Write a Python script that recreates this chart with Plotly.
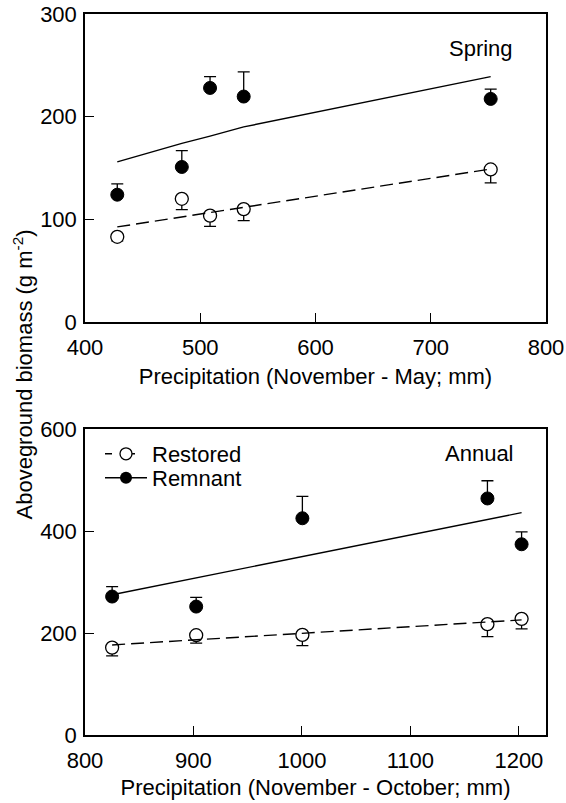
import plotly.graph_objects as go
from plotly.subplots import make_subplots

# ---- Spring panel data ----
spring_x = [428, 484, 508.5, 537.7, 752]
spring_remnant = [124, 151, 228, 219.6, 217.3]
spring_remnant_err = [10.6, 16, 11, 24, 9.5]
spring_restored = [83, 120, 103.6, 110, 148.6]
spring_restored_err = [4, 10.5, 10.4, 11.3, 13]
spring_remnant_fit_x = [428, 484, 508.5, 537.7, 752]
spring_remnant_fit = [156, 174, 181, 190, 239]
spring_restored_fit_x = [428, 752]
spring_restored_fit = [92.6, 149]

# ---- Annual panel data ----
annual_x = [825, 902.5, 1000.4, 1171, 1202.5]
annual_remnant = [271.5, 251.8, 425, 463.8, 374]
annual_remnant_err = [19.5, 18, 42.7, 34.7, 24.4]
annual_restored = [171.4, 195.7, 196.3, 217.3, 227.7]
annual_restored_err = [16.4, 15.7, 21, 24.3, 19.7]
annual_fit_x = [825, 1202.5]
annual_remnant_fit = [275, 436]
annual_restored_fit = [176.6, 225.7]

FONT = "Liberation Sans, Arial, Helvetica, sans-serif"
FS = 22
BLACK = "black"
DASH = "13px,6px"

W, H = 566, 803
L, R, T, B = 85, 20, 14, 68
PW, PH = W - L - R, H - T - B


def px_x(px):
    return (px - L) / PW


def px_y(py):
    return (H - B - py) / PH


fig = make_subplots(rows=2, cols=1, vertical_spacing=0.0)


def add_panel(row, x, rem, rem_err, res, res_err, rem_fx, rem_fy, res_fx, res_fy):
    fig.add_trace(go.Scatter(
        x=x, y=res, mode="markers", showlegend=False,
        marker=dict(symbol="circle", size=13, color="white",
                    line=dict(color=BLACK, width=1.3)),
        error_y=dict(type="data", symmetric=False, array=[0] * len(x),
                     arrayminus=res_err, color=BLACK, thickness=1.3, width=6),
    ), row=row, col=1)
    fig.add_trace(go.Scatter(
        x=x, y=rem, mode="markers", showlegend=False,
        marker=dict(symbol="circle", size=13, color=BLACK,
                    line=dict(color=BLACK, width=1)),
        error_y=dict(type="data", symmetric=False, array=rem_err,
                     arrayminus=[0] * len(x), color=BLACK, thickness=1.3, width=6),
    ), row=row, col=1)
    fig.add_trace(go.Scatter(
        x=res_fx, y=res_fy, mode="lines", showlegend=False,
        line=dict(color=BLACK, width=1.4, dash=DASH),
    ), row=row, col=1)
    fig.add_trace(go.Scatter(
        x=rem_fx, y=rem_fy, mode="lines", showlegend=False,
        line=dict(color=BLACK, width=1.4),
    ), row=row, col=1)


add_panel(1, spring_x, spring_remnant, spring_remnant_err, spring_restored,
          spring_restored_err, spring_remnant_fit_x, spring_remnant_fit,
          spring_restored_fit_x, spring_restored_fit)
add_panel(2, annual_x, annual_remnant, annual_remnant_err, annual_restored,
          annual_restored_err, annual_fit_x, annual_remnant_fit,
          annual_fit_x, annual_restored_fit)

# legend entries (two separate legends for exact placement)
fig.add_trace(go.Scatter(
    x=[None], y=[None], mode="lines+markers", name="Restored", legend="legend",
    marker=dict(symbol="circle", size=12, color="white", line=dict(color=BLACK, width=1.3)),
    line=dict(color=BLACK, width=1.4, dash="7px,16px"),
), row=2, col=1)
fig.add_trace(go.Scatter(
    x=[None], y=[None], mode="lines+markers", name="Remnant", legend="legend2",
    marker=dict(symbol="circle", size=12, color=BLACK),
    line=dict(color=BLACK, width=1.4),
), row=2, col=1)

axis_common = dict(showline=True, mirror=True, linecolor=BLACK, linewidth=1.5,
                   ticks="inside", ticklen=9, tickwidth=1.3, tickcolor=BLACK,
                   showgrid=False, zeroline=False,
                   tickfont=dict(family=FONT, size=FS, color=BLACK))

fig.update_xaxes(**axis_common, ticklabelstandoff=5)
fig.update_yaxes(**axis_common, ticklabelstandoff=2)

top_lo = px_y(322)
bot_hi = px_y(429)

fig.update_xaxes(range=[400, 800], tickvals=[400, 500, 600, 700, 800],
                 domain=[0, 1], row=1, col=1,
                 title=dict(text="Precipitation (November - May; mm)",
                            font=dict(family=FONT, size=FS, color=BLACK), standoff=9))
fig.update_yaxes(range=[0, 300], tickvals=[0, 100, 200, 300],
                 domain=[top_lo, 1.0], row=1, col=1)
fig.update_xaxes(range=[800, 1225], tickvals=[800, 900, 1000, 1100, 1200],
                 domain=[0, 1], row=2, col=1,
                 title=dict(text="Precipitation (November - October; mm)",
                            font=dict(family=FONT, size=FS, color=BLACK), standoff=7))
fig.update_yaxes(range=[0, 600], tickvals=[0, 200, 400, 600],
                 domain=[0.0, bot_hi], row=2, col=1)

leg_common = dict(xanchor="left", yanchor="middle", bgcolor="rgba(0,0,0,0)",
                  borderwidth=0, font=dict(family=FONT, size=FS, color=BLACK),
                  itemwidth=42, tracegroupgap=0)

ann_font = dict(family=FONT, size=FS, color=BLACK)
fig.update_layout(
    width=W, height=H,
    margin=dict(l=L, r=R, t=T, b=B, autoexpand=False),
    paper_bgcolor="white", plot_bgcolor="white",
    font=dict(family=FONT, size=FS, color=BLACK),
    showlegend=True,
    legend=dict(x=px_x(100), y=px_y(454), **leg_common),
    legend2=dict(x=px_x(100), y=px_y(478), **leg_common),
    annotations=[
        dict(text="Spring", xref="paper", yref="paper", x=px_x(481), y=px_y(49),
             xanchor="center", yanchor="middle", showarrow=False, font=ann_font),
        dict(text="Annual", xref="paper", yref="paper", x=px_x(479), y=px_y(454),
             xanchor="center", yanchor="middle", showarrow=False, font=ann_font),
        dict(text="Aboveground biomass (g m<sup>-2</sup>)", xref="paper", yref="paper",
             x=px_x(22.5), y=px_y(375), xanchor="center", yanchor="middle",
             textangle=-90, showarrow=False, font=ann_font),
    ],
)

fig.write_html("out.html", post_script="document.body.style.margin='0';",
               config={"displayModeBar": False})
